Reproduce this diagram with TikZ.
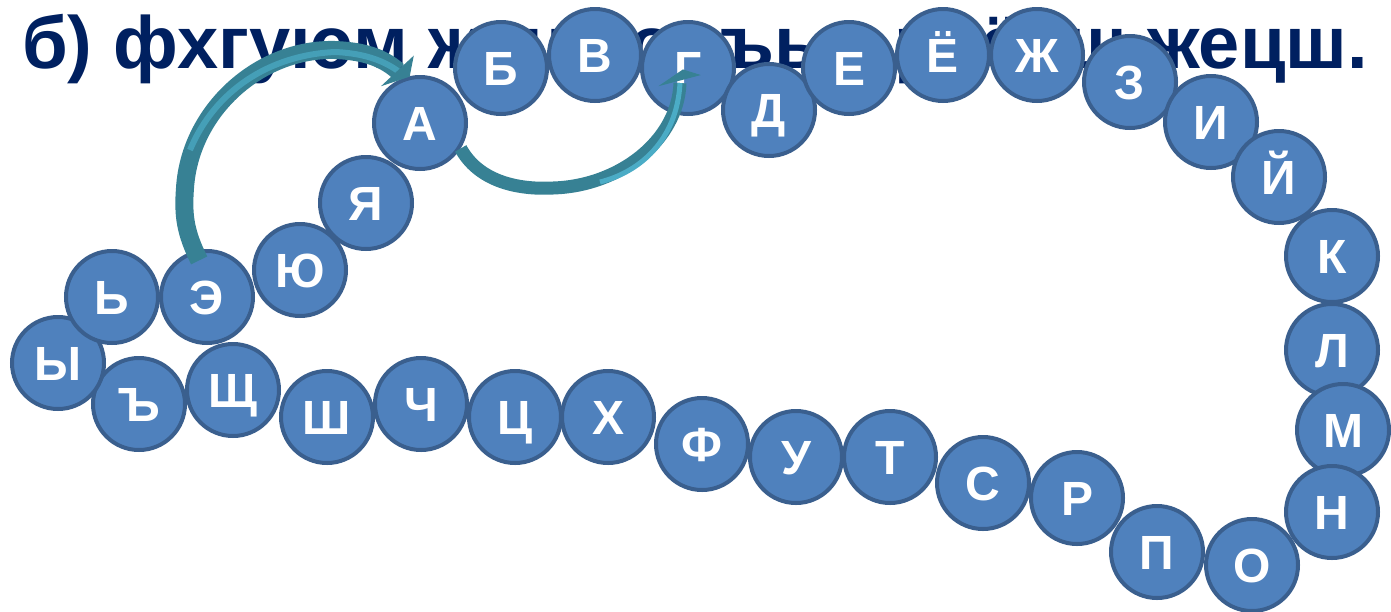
\documentclass[tikz,border=0pt]{standalone}
\usepackage{fontspec}
\setmainfont{Liberation Sans}
\usetikzlibrary{calc}
\definecolor{beadfill}{HTML}{4F81BD}
\definecolor{beadline}{HTML}{3A5F8E}
\definecolor{titlecol}{HTML}{002060}
\definecolor{teald}{HTML}{378194}
\definecolor{teall}{HTML}{4BACC6}
\begin{document}
\begin{tikzpicture}[x=1pt,y=-1pt,
  bead/.style={circle, draw=beadline, line width=4pt, fill=beadfill,
    minimum size=92pt, inner sep=0pt, text=white, text height=34pt, text depth=0pt,
    font=\fontsize{48}{48}\selectfont\bfseries},
  titletext/.style={anchor=base west, inner sep=0pt, text=titlecol,
    font=\fontsize{74}{74}\selectfont\bfseries},
  banddark/.style={draw=teald, line width=#1, line cap=butt},
  headshape/.style={fill=teald, draw=teald, line width=1pt, line join=miter}]
\useasboundingbox (0,0) rectangle (1391,611);
\node[titletext] (title) at (22,68) {б) фхгуюм жуцё оцъыз рсёяш жецш.};
\foreach \n/\x/\y/\t in {
  b28/139/404/Ъ, b27/233/390/Щ, b29/58/363/Ы, b30/112/297/Ь,
  b1/420/123/А, b2/501/68/Б, b3/595/55/В, b4/688/68/Г, b5/769/110/Д,
  b6/849/68/Е, b7/943/55/Ё, b8/1037/55/Ж, b9/1130/82/З, b10/1211/122/И,
  b11/1279/177/Й, b12/1332/256/К, b13/1332/350/Л, b14/1343/430/М,
  b15/1332/512/Н, b16/1252/565/О, b17/1157/552/П, b18/1077/498/Р,
  b19/983/483/С, b20/890/457/Т, b21/796/457/У, b22/702/444/Ф,
  b23/608/417/Х, b24/515/417/Ц, b25/421/404/Ч, b26/327/417/Ш,
  b31/207/297/Э, b32/300/270/Ю, b33/366/203/Я}
  \node[bead] (\n) at (\x,\y) {\t};
% arrow from Э to А
\coordinate (s1) at ($(b31.102)!0.22!(b31.center)$);
\coordinate (e1) at (398,71);
\path[banddark=18pt] (s1) .. controls (185,232) and (183,215) .. (185,188)
  .. controls (190,110) and (260,48) .. (335,50)
  .. controls (358,51) and (380,55) .. (e1);
\path[draw=teall!70!teald, line width=6pt] (190,150) .. controls (215,90) and (270,55) .. (335,52)
  .. controls (358,53) and (380,58) .. (e1);
\path[headshape] (413,57) -- (b1.103) -- (383,85) -- cycle;
% arrow from А to Г
\coordinate (e2) at (680,83);
\path[banddark=13pt] (b1.-32) .. controls (478,180) and (515,190) .. (553,188)
  .. controls (620,186) and (678,140) .. (e2);
\path[draw=teall, line width=5pt] (600,182) .. controls (640,172) and (677,140) .. (e2);
\path[headshape] (661,85) -- (683,70) -- (699,75) -- cycle;
\end{tikzpicture}
\end{document}
